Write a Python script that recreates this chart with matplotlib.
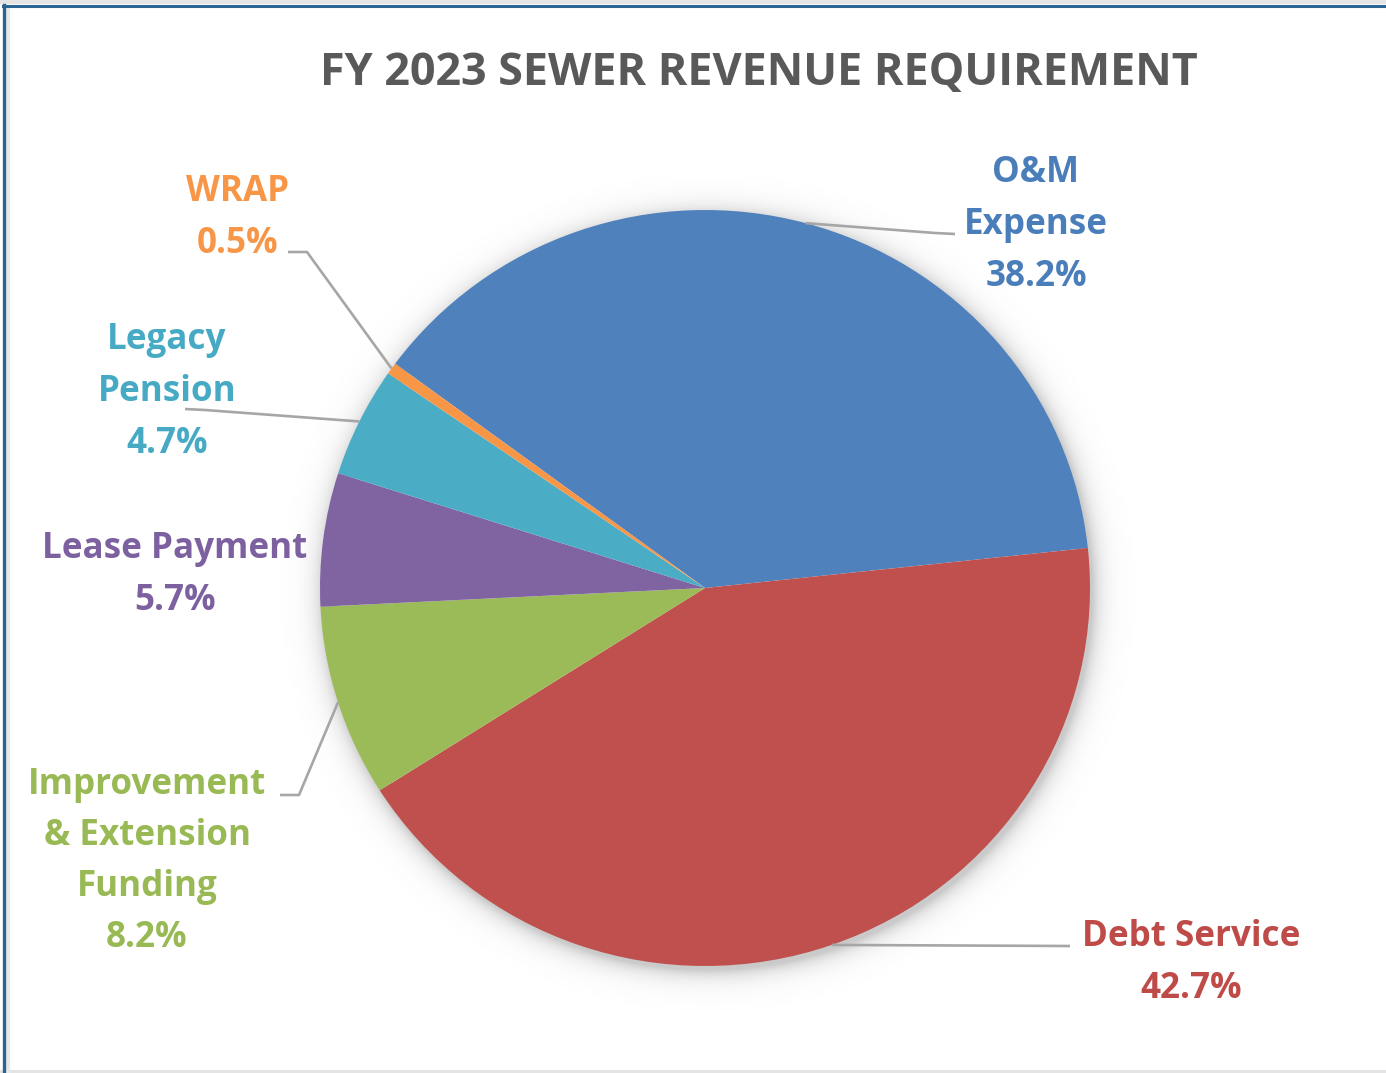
import matplotlib
matplotlib.use('Agg')
import matplotlib.pyplot as plt
import numpy as np
from matplotlib.lines import Line2D
from matplotlib.patches import Rectangle

# ---------------- data ----------------
categories = ['O&M Expense', 'Debt Service', 'Improvement & Extension Funding',
              'Lease Payment', 'Legacy Pension', 'WRAP']
values = [38.2, 42.7, 8.2, 5.7, 4.7, 0.5]
label_names = [['O&M', 'Expense'], ['Debt Service'], ['Improvement', '& Extension', 'Funding'],
               ['Lease Payment'], ['Legacy', 'Pension'], ['WRAP']]
title = 'FY 2023 SEWER REVENUE REQUIREMENT'

# ---------------- style ----------------
colors = ['#4F81BD', '#C0504D', '#9BBB59', '#8064A2', '#4BACC6', '#F79646']
text_colors = ['#4A7EBB', '#BE4B48', '#98B954', '#7D60A0', '#46AAC5', '#F79646']
FONT = 'Open Sans'

W, H = 1386, 1073
CX, CY, RX, RY = 705, 588, 385, 378

fig = plt.figure(figsize=(W / 100, H / 100), dpi=100)
fig.patch.set_facecolor('white')
ax = fig.add_axes([0, 0, 1, 1])
renderer = fig.canvas.get_renderer()


def px(x, y):
    return ((x - CX) / RX, (CY - y) / RY)


def fit_size(text, target_px, base=20):
    t = fig.text(0, 0, text, fontsize=base, fontweight='bold', family=FONT)
    w = t.get_window_extent(renderer).width
    t.remove()
    return base * target_px / w


# soft shadow behind the pie
xs = np.linspace(-CX / RX, (W - CX) / RX, 700)
ys = np.linspace(-(H - CY) / RY, CY / RY, 540)
XX, YY = np.meshgrid(xs, ys)
off = (0.008, -0.012)
D = np.sqrt((XX - off[0]) ** 2 + (YY - off[1]) ** 2)
alpha = np.where(D > 0.97, 0.32 * np.exp(-np.clip(D - 1.0, 0, None) / 0.025), 0.0)
rgba = np.zeros(D.shape + (4,))
rgba[..., :3] = 0.35
rgba[..., 3] = alpha
ax.imshow(rgba, extent=(xs[0], xs[-1], ys[0], ys[-1]), origin='lower',
          zorder=0, interpolation='bilinear', aspect='auto')

wedges, _ = ax.pie(values, colors=colors, startangle=143.6, counterclock=False,
                   radius=1.0, wedgeprops=dict(linewidth=0, zorder=2))

ax.set_xlim(-CX / RX, (W - CX) / RX)
ax.set_ylim(-(H - CY) / RY, CY / RY)
ax.set_aspect('auto')
ax.axis('off')

# leader line path points (pixel positions of elbows / ends); None = no leader
leader_paths = [[(935, 233), (955, 234)],
                [(1070, 946)],
                [(299, 795), (280, 795)],
                None,
                [(205, 410), (185, 409)],
                [(307, 252), (288, 252)]]
# label anchor: center x, first baseline y, line spacing (pixels)
label_pos = [(1036, 182, 52), (1191, 946, 52), (147, 794, 51),
             (175, 558, 52), (167, 349, 52), (238, 201, 52)]

label_size = fit_size('Lease Payment', 265)
title_size = fit_size(title, 878)

for i, w in enumerate(wedges):
    path = leader_paths[i]
    if path is not None:
        th = np.deg2rad((w.theta1 + w.theta2) / 2)
        pts = [(np.cos(th), np.sin(th))] + [px(*p) for p in path]
        ax.plot([p[0] for p in pts], [p[1] for p in pts], color='#A6A6A6',
                lw=1.9, zorder=3, solid_capstyle='butt')
    lines = label_names[i] + [f'{values[i]:.1f}%']
    cx, by, sp = label_pos[i]
    for k, t in enumerate(lines):
        x, y = px(cx, by + k * sp)
        ax.text(x, y, t, ha='center', va='baseline', color=text_colors[i],
                fontsize=label_size, fontweight='bold', family=FONT, zorder=4)

fig.text(759 / W, 1 - 85 / H, title, ha='center', va='baseline', color='#595959',
         fontsize=title_size, fontweight='bold', family=FONT)

# frame of the chart
fig.add_artist(Rectangle((0, 1 - 4 / H), 1, 4 / H, transform=fig.transFigure,
                         color='#E4E4E4', lw=0))
fig.add_artist(Rectangle((0, 0), 1, 3 / H, transform=fig.transFigure,
                         color='#E4E4E4', lw=0))
fig.add_artist(Rectangle((6 / W, 0), 4 / W, 1 - 7 / H, transform=fig.transFigure,
                         color='#E8E8E8', lw=0))
fig.add_artist(Line2D([3 / W, 1], [1 - 5.5 / H, 1 - 5.5 / H], transform=fig.transFigure,
                      color='#2A6592', lw=2.2))
fig.add_artist(Line2D([4 / W, 4 / W], [0, 1 - 4.5 / H], transform=fig.transFigure,
                      color='#2A6592', lw=2.4))

fig.savefig('out.png', dpi=100, facecolor='white')
